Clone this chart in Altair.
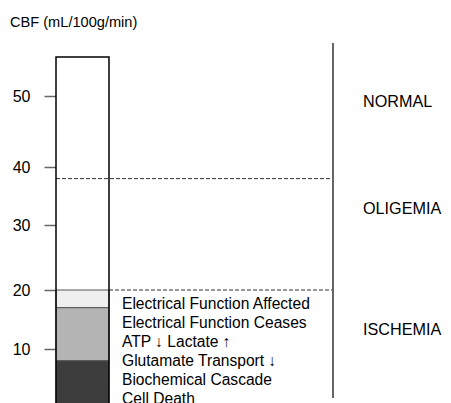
import altair as alt
import pandas as pd

FONT = "Liberation Sans"

# Axis calibration (CBF values and their read positions in the figure)
cbf_ticks = [10, 20, 30, 40, 50]
scale_domain = [0, 10, 20, 30, 40, 50, 60]
scale_range = [388, 329, 270, 205, 147, 76, 5]

# Bar and zones
bar_top = 55.5
seg_low = [17, 8, 0]
seg_high = [20, 17, 8]
seg_fill = ["#efefef", "#b4b4b4", "#3c3c3c"]

thresholds = [38, 20]

zone_names = ["NORMAL", "OLIGEMIA", "ISCHEMIA"]
zone_label_y = [49.2, 32.8, 13.2]

events = [
    "Electrical Function Affected",
    "Electrical Function Ceases",
    "ATP \u2193 Lactate \u2191",
    "Glutamate Transport \u2193",
    "Biochemical Cascade",
    "Cell Death",
]
events_y = 16.8

yscale = alt.Scale(domain=scale_domain, range=scale_range, nice=False, zero=False)

bar_df = pd.DataFrame({"lo": [0], "hi": [bar_top]})
seg_df = pd.DataFrame({"lo": seg_low, "hi": seg_high, "fill": seg_fill})
zone_df = pd.DataFrame({"name": zone_names, "y": zone_label_y})
ev_df = pd.DataFrame({"text": ["\n".join(events)], "y": [events_y]})
title_df = pd.DataFrame({"t": ["CBF (mL/100g/min)"]})

bar_bg = alt.Chart(bar_df).mark_rect(fill="white", stroke=None).encode(
    x=alt.value(0), x2=alt.value(53),
    y=alt.Y("hi:Q", scale=yscale,
            axis=alt.Axis(values=cbf_ticks, tickSize=12, tickColor="#666666",
                          tickWidth=1.5, domain=False, grid=False,
                          labelFontSize=16, labelFont=FONT, labelColor="black",
                          labelPadding=14, title="")),
    y2="lo:Q",
)

segs = alt.Chart(seg_df).mark_rect(stroke="#555555", strokeWidth=1).encode(
    x=alt.value(0), x2=alt.value(53),
    y=alt.Y("hi:Q", scale=yscale),
    y2="lo:Q",
    fill=alt.Fill("fill:N", scale=None),
)

rule38 = alt.Chart(pd.DataFrame({"v": [thresholds[0]]})).mark_rule(
    color="#333333", strokeWidth=1, strokeDash=[4, 2]
).encode(x=alt.value(0), x2=alt.value(277), y=alt.Y("v:Q", scale=yscale))

rule20 = alt.Chart(pd.DataFrame({"v": [thresholds[1]]})).mark_rule(
    color="#333333", strokeWidth=1, strokeDash=[4, 2]
).encode(x=alt.value(53), x2=alt.value(277), y=alt.Y("v:Q", scale=yscale))

vline = alt.Chart(pd.DataFrame({"a": [0]})).mark_rule(
    color="#666666", strokeWidth=2
).encode(x=alt.value(277), y=alt.value(23), y2=alt.value(378))

outline = alt.Chart(bar_df).mark_rect(
    fillOpacity=0, stroke="black", strokeWidth=1.5
).encode(
    x=alt.value(0), x2=alt.value(53),
    y=alt.Y("hi:Q", scale=yscale), y2="lo:Q",
)

zones = alt.Chart(zone_df).mark_text(
    align="left", baseline="middle", font=FONT, fontSize=16.2, color="black"
).encode(x=alt.value(307), y=alt.Y("y:Q", scale=yscale), text="name:N")

ev = alt.Chart(ev_df).mark_text(
    align="left", baseline="alphabetic", font=FONT, fontSize=15.6,
    color="black", lineBreak="\n", lineHeight=19
).encode(x=alt.value(66), y=alt.Y("y:Q", scale=yscale), text="text:N")

title = alt.Chart(title_df).mark_text(
    align="left", baseline="alphabetic", font=FONT, fontSize=14.6, color="black"
).encode(x=alt.value(-46), y=alt.value(7), text="t:N")

chart = alt.layer(
    bar_bg, segs, rule38, rule20, vline, outline, zones, ev, title
).properties(
    width=387, height=392,
    autosize=alt.AutoSizeParams(type="none"),
    padding={"left": 48, "top": 12, "right": 0, "bottom": 0},
).configure_view(stroke=None)

chart.save("out.html", embed_options={"renderer": "svg", "actions": False})
